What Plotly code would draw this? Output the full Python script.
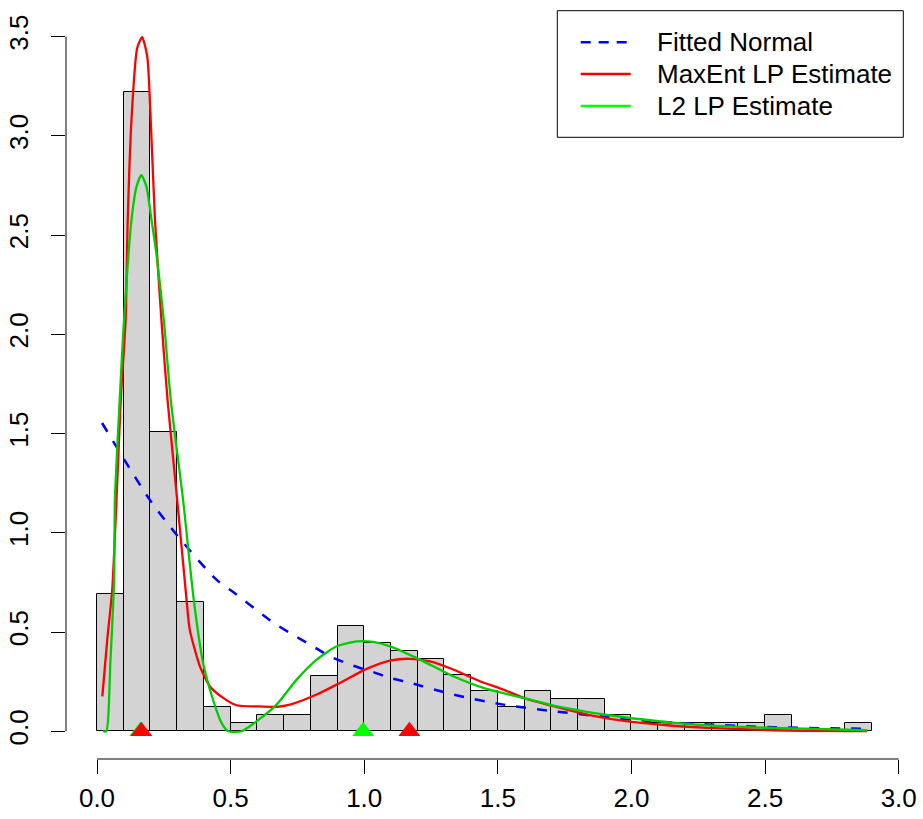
import plotly.graph_objects as go

# ---------------- data ----------------
bin_left = [0.0, 0.1, 0.2, 0.3, 0.4, 0.5, 0.6, 0.7, 0.8, 0.9,
            1.0, 1.1, 1.2, 1.3, 1.4, 1.5, 1.6, 1.7, 1.8, 1.9,
            2.0, 2.1, 2.2, 2.3, 2.4, 2.5, 2.6, 2.7, 2.8]
bin_width = 0.1
density = [0.69, 3.22, 1.508, 0.65, 0.12, 0.04, 0.08, 0.08, 0.28, 0.528,
           0.445, 0.403, 0.363, 0.282, 0.201, 0.121, 0.201, 0.161, 0.161, 0.081,
           0.04, 0.04, 0.04, 0.04, 0.04, 0.081, 0.0, 0.0, 0.04]

normal_x = [0.019, 0.197, 0.303, 0.447, 0.518, 0.653, 0.722, 0.797, 0.871, 0.959,
            1.034, 1.096, 1.171, 1.333, 1.521, 1.708, 1.895, 2.082, 2.282, 2.532,
            2.782, 2.882]
normal_y = [1.553, 1.167, 0.982, 0.764, 0.693, 0.554, 0.495, 0.437, 0.378, 0.330,
            0.298, 0.269, 0.244, 0.185, 0.134, 0.101, 0.073, 0.050, 0.034, 0.020,
            0.014, 0.012]

maxent_x = [0.020, 0.039, 0.057, 0.073, 0.089, 0.107, 0.115, 0.129, 0.150, 0.169,
            0.188, 0.201, 0.217, 0.241, 0.264, 0.300, 0.335, 0.347, 0.385, 0.422,
            0.472, 0.522, 0.600, 0.672, 0.722, 0.822, 0.897, 1.009, 1.096, 1.171,
            1.246, 1.333, 1.433, 1.521, 1.596, 1.708, 1.833, 1.958, 2.145, 2.282,
            2.532, 2.882]
maxent_y = [0.176, 0.470, 0.713, 1.167, 1.670, 2.072, 2.576, 3.080, 3.440, 3.497,
            3.400, 3.080, 2.576, 2.072, 1.670, 1.167, 0.663, 0.512, 0.327, 0.227,
            0.168, 0.131, 0.125, 0.123, 0.134, 0.185, 0.235, 0.314, 0.356, 0.365,
            0.352, 0.311, 0.252, 0.210, 0.168, 0.126, 0.084, 0.055, 0.029, 0.017,
            0.005, 0.001]

l2_x = [0.022, 0.035, 0.050, 0.064, 0.067, 0.085, 0.101, 0.129, 0.148, 0.166,
        0.185, 0.204, 0.222, 0.250, 0.276, 0.322, 0.362, 0.397, 0.434, 0.466,
        0.491, 0.541, 0.597, 0.672, 0.747, 0.822, 0.897, 0.972, 1.034, 1.096,
        1.209, 1.333, 1.458, 1.596, 1.708, 1.833, 1.958, 2.145, 2.282, 2.532,
        2.882]
l2_y = [0.0, 0.0, 0.35, 0.764, 1.167, 1.670, 2.072, 2.576, 2.744, 2.802,
        2.744, 2.576, 2.409, 2.072, 1.670, 1.167, 0.663, 0.344, 0.160, 0.042,
        0.0, 0.0, 0.050, 0.134, 0.260, 0.361, 0.428, 0.453, 0.450, 0.428,
        0.361, 0.277, 0.213, 0.168, 0.129, 0.098, 0.073, 0.045, 0.030, 0.017,
        0.005]

l2_modes = [0.162, 0.996]
maxent_modes = [0.166, 1.169]

legend_labels = ["Fitted Normal", "MaxEnt LP Estimate", "L2 LP Estimate"]
x_ticks = [0.0, 0.5, 1.0, 1.5, 2.0, 2.5, 3.0]
y_ticks = [0.0, 0.5, 1.0, 1.5, 2.0, 2.5, 3.0, 3.5]

# ---------------- styles / layout ----------------
BLUE, RED, GREEN_LINE, GREEN_PT = "#0000FF", "#FF0000", "#00CD00", "#00FF00"
FONT = "Liberation Sans, Arial, Helvetica, sans-serif"
W, H = 923, 819
ML, MR, MT, MB = 66, 20, 10, 60
PW, PH = W - ML - MR, H - MT - MB


def px_x(p):  # page pixel -> paper coordinate
    return (p - ML) / PW


def px_y(p):
    return 1 - (p - MT) / PH


fig = go.Figure()
fig.add_trace(go.Bar(
    x=[b + bin_width / 2 for b in bin_left], y=density, width=bin_width,
    marker=dict(color="#D3D3D3", line=dict(color="black", width=1)),
    showlegend=False, hoverinfo="x+y"))
fig.add_trace(go.Scatter(x=normal_x, y=normal_y, mode="lines", name=legend_labels[0],
                         line=dict(color=BLUE, width=2.5, dash="10px,11px", shape="spline", smoothing=0.8),
                         showlegend=False))
fig.add_trace(go.Scatter(x=maxent_x, y=maxent_y, mode="lines", name=legend_labels[1],
                         line=dict(color=RED, width=2.3, shape="spline", smoothing=0.6),
                         showlegend=False))
fig.add_trace(go.Scatter(x=l2_x, y=l2_y, mode="lines", name=legend_labels[2],
                         line=dict(color=GREEN_LINE, width=2.3, shape="spline", smoothing=0.6),
                         showlegend=False))
fig.add_trace(go.Scatter(x=l2_modes, y=[0] * len(l2_modes), mode="markers",
                         marker=dict(symbol="triangle-up", size=19, color=GREEN_PT),
                         showlegend=False, cliponaxis=False))
fig.add_trace(go.Scatter(x=maxent_modes, y=[0] * len(maxent_modes), mode="markers",
                         marker=dict(symbol="triangle-up", size=19, color=RED),
                         showlegend=False, cliponaxis=False))

# R-style axis lines spanning first to last tick
shapes = [
    dict(type="line", xref="x", yref="paper", x0=x_ticks[0], x1=x_ticks[-1], y0=0, y1=0,
         line=dict(color="black", width=1)),
    dict(type="line", xref="paper", yref="y", x0=0, x1=0, y0=y_ticks[0], y1=y_ticks[-1],
         line=dict(color="black", width=1)),
]

# R-like legend box
shapes.append(dict(type="rect", xref="paper", yref="paper",
                   x0=px_x(557.3), x1=px_x(903.3), y0=px_y(137.3), y1=px_y(10.7),
                   line=dict(color="black", width=1), fillcolor="white", layer="above"))
rows = [42.3, 74.0, 106.0]
leg_styles = [dict(color=BLUE, width=2.5, dash="10px,8px"),
              dict(color=RED, width=2.3),
              dict(color=GREEN_PT, width=2.3)]
annotations = []
for lab, ry, st in zip(legend_labels, rows, leg_styles):
    shapes.append(dict(type="line", xref="paper", yref="paper",
                       x0=px_x(580.7), x1=px_x(630.7), y0=px_y(ry), y1=px_y(ry),
                       line=st, layer="above"))
    annotations.append(dict(xref="paper", yref="paper", x=px_x(655), y=px_y(ry),
                            text=lab, showarrow=False, xanchor="left", yanchor="middle",
                            font=dict(family=FONT, size=26, color="black")))

fig.update_layout(
    width=W, height=H,
    margin=dict(l=ML, r=MR, t=MT, b=MB, pad=0, autoexpand=False),
    paper_bgcolor="white", plot_bgcolor="white",
    bargap=0, shapes=shapes, annotations=annotations,
    font=dict(family=FONT, size=26, color="black"),
    xaxis=dict(range=[-0.116, 3.016], tickvals=x_ticks,
               ticktext=[f"{v:.1f}" for v in x_ticks],
               ticks="outside", ticklen=14, tickwidth=1, tickcolor="black",
               showgrid=False, zeroline=False, showline=False,
               automargin=False, ticklabeloverflow="allow",
               ticklabelstandoff=2,
               tickfont=dict(family=FONT, size=26, color="black")),
    yaxis=dict(range=[-0.1399, 3.634], tickvals=y_ticks,
               ticktext=[f"{v:.1f}" for v in y_ticks],
               ticks="outside", ticklen=14, tickwidth=1, tickcolor="black",
               tickangle=-90,
               showgrid=False, zeroline=False, showline=False,
               automargin=False, ticklabeloverflow="allow",
               ticklabelstandoff=13,
               tickfont=dict(family=FONT, size=26, color="black")),
)

fig.write_html("out.html", config={"displayModeBar": False},
               post_script="document.body.style.margin='0';document.body.style.padding='0';"
                           "document.body.style.overflow='hidden';")
